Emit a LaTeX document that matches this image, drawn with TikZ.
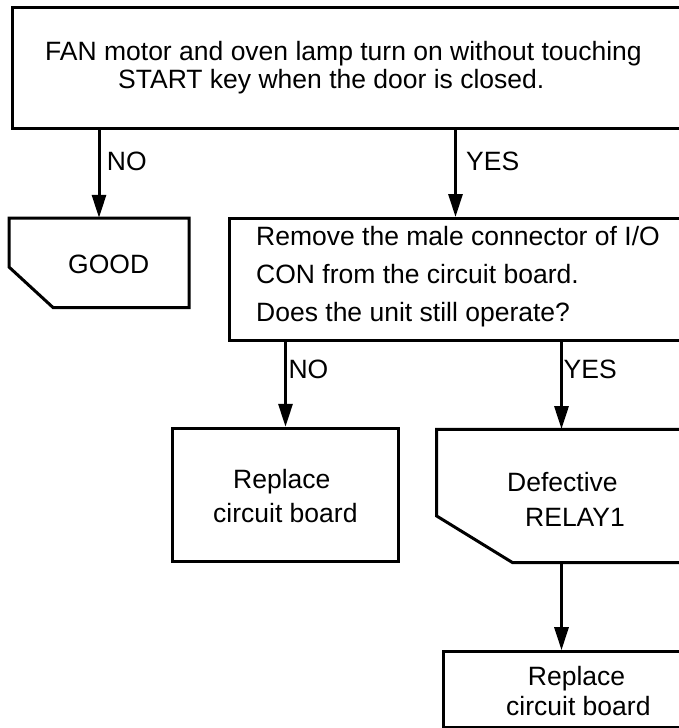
\documentclass[tikz,border=0pt]{standalone}
\usepackage{fontspec}
\setmainfont{Liberation Sans}
\usetikzlibrary{arrows.meta}
\begin{document}
\begin{tikzpicture}[x=1pt,y=-1pt,
  box/.style={draw, rectangle, inner sep=0pt, line width=3pt},
  ghost/.style={rectangle, inner sep=0pt},
  shp/.style={draw, line width=3pt},
  txt/.style={font=\fontsize{26.5}{30}\selectfont, inner sep=0pt, anchor=base west},
  arr/.style={-{Triangle[length=23pt,width=14pt]}, line width=3pt}]
\useasboundingbox (0,0) rectangle (679,728);
\clip (0,0) rectangle (679,728);
% boxes
\node[box, minimum width=678pt, minimum height=120.5pt] (top) at (351,67.75) {};
\node[box, minimum width=460.5pt, minimum height=121.5pt] (remove) at (459.75,279.25) {};
\node[box, minimum width=225.6pt, minimum height=133.4pt] (repL) at (285.5,495) {};
\node[box, minimum width=247pt, minimum height=75.3pt] (repR) at (566.5,689.35) {};
\node[ghost, minimum width=180pt, minimum height=89.5pt] (good) at (99,262.75) {};
\draw[shp] (9,218) -- (189,218) -- (189,307.5) -- (53,307.5) -- (9,267) -- cycle;
\node[ghost, minimum width=253.3pt, minimum height=133.4pt] (def) at (563.35,496) {};
\draw[shp] (436.7,429.3) -- (690,429.3) -- (690,562.7) -- (512.7,562.7) -- (436.7,516) -- cycle;
% texts
\node[txt] (t1) at (45,60) {FAN motor and oven lamp turn on without touching};
\node[txt] (t2) at (118,88) {START key when the door is closed.};
\node[txt] (g1) at (68,273) {GOOD};
\node[txt] (r1) at (256,245) {Remove the male connector of I/O};
\node[txt] (r2) at (256,283) {CON from the circuit board.};
\node[txt] (r3) at (256,321.7) {Does the unit still operate?};
\node[txt] (l1) at (233,488.3) {Replace};
\node[txt] (l2) at (213,522.7) {circuit board};
\node[txt] (d1) at (507,491.7) {Defective};
\node[txt] (d2) at (525,526.7) {RELAY1};
\node[txt] (b1) at (527.7,685) {Replace};
\node[txt] (b2) at (506,715) {circuit board};
% connectors
\coordinate (ya) at (455.5,0);
\coordinate (yb) at (561.5,0);
\draw[arr] (top.south -| good.north) -- (good.north);
\draw[arr] (top.south -| ya) -- (remove.north -| ya);
\draw[arr] (remove.south -| repL.north) -- (repL.north);
\draw[arr] (remove.south -| yb) -- (def.north -| yb);
\draw[arr] (def.south -| yb) -- (repR.north -| yb);
% labels
\node[txt] (n1) at (106.7,170.5) {NO};
\node[txt] (y1) at (466,170.5) {YES};
\node[txt] (n2) at (288.3,378) {NO};
\node[txt] (y2) at (563.5,378) {YES};
\end{tikzpicture}
\end{document}
